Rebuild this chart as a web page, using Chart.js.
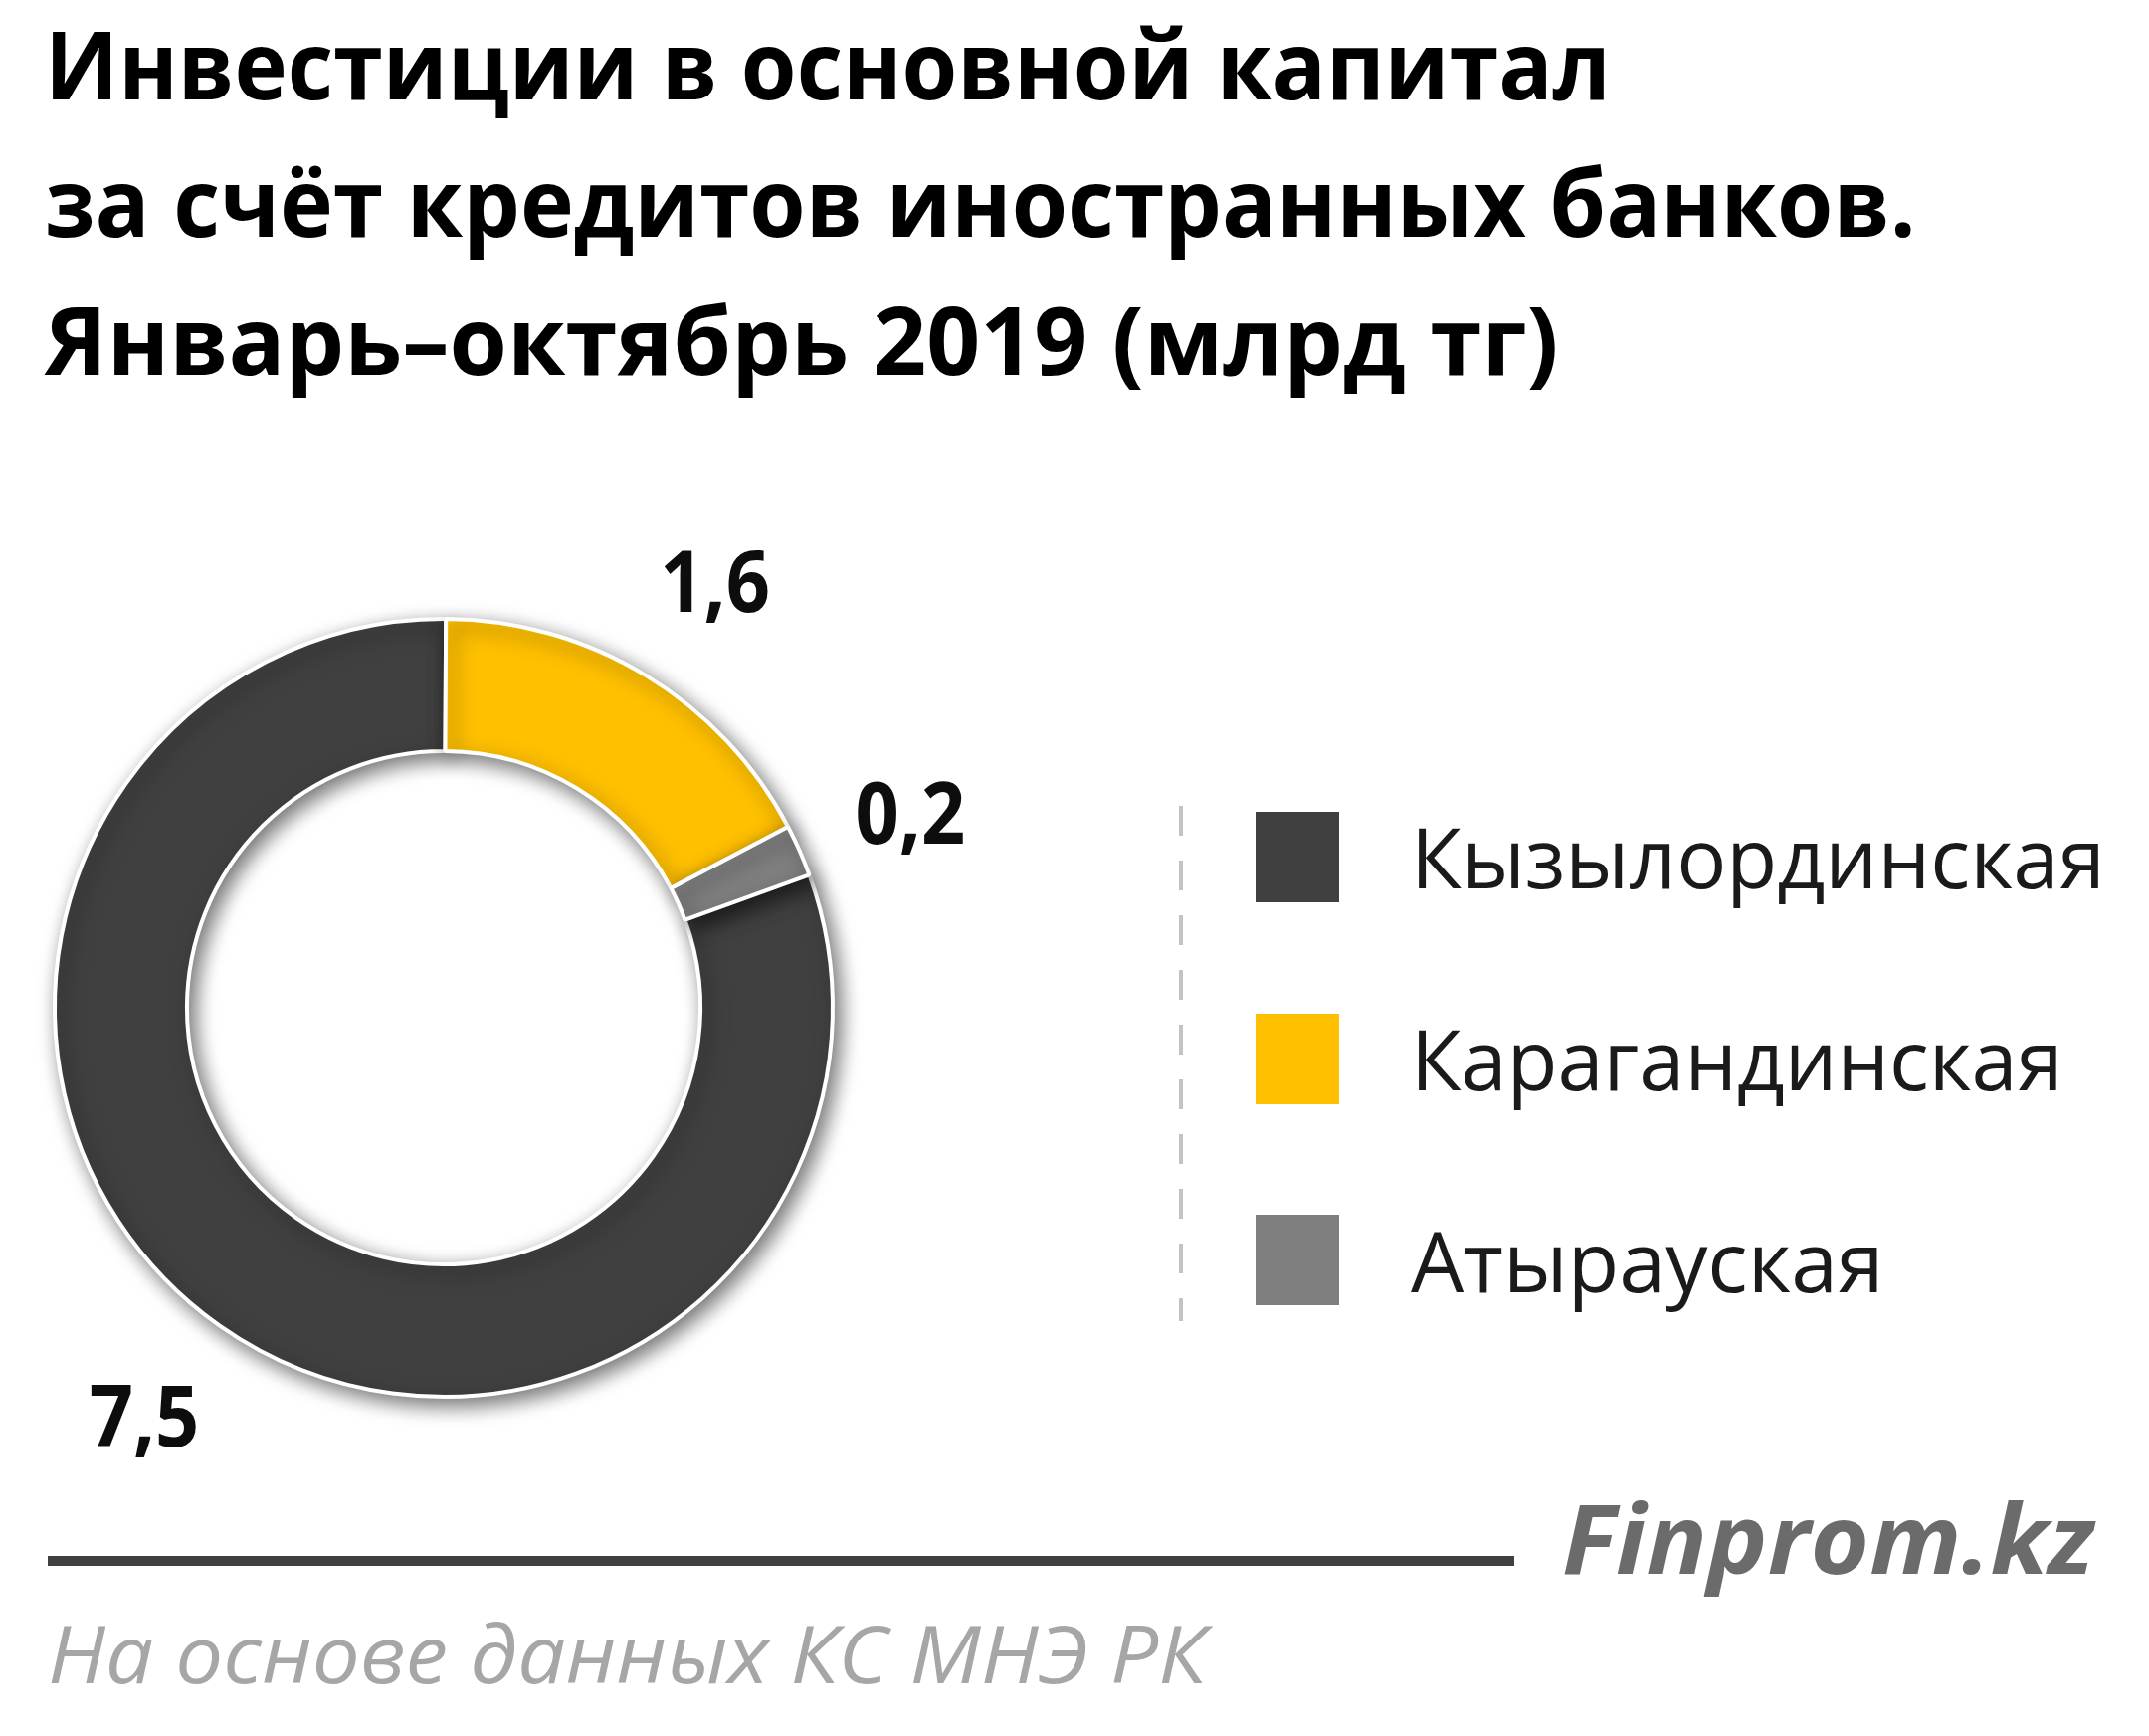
<!DOCTYPE html>
<html lang="ru">
<head>
<meta charset="utf-8">
<title>Инвестиции в основной капитал за счёт кредитов иностранных банков</title>
<script src="https://cdn.jsdelivr.net/npm/chart.js@4.4.1/dist/chart.umd.min.js"></script>
<style>
  html, body { margin: 0; padding: 0; background: #fff; }
  body { position: relative; width: 2160px; height: 1745px; overflow: hidden; font-family: "Open Sans", "Noto Sans", sans-serif; }
  .txt { position: absolute; white-space: nowrap; line-height: 1; transform-origin: 0 0; }
  .title { font-weight: 700; font-size: 95px; color: #000; }
  .leg-text { font-size: 85px; color: #1a1a1a; }
  .leg-box { position: absolute; left: 1262px; width: 84px; height: 91px; }
  #divider { position: absolute; left: 1185px; top: 810px; width: 4px; height: 518px;
    background: repeating-linear-gradient(to bottom, #c3c3c3 0 30px, transparent 30px 55px); }
  #rule { position: absolute; left: 48px; top: 1564px; width: 1474px; height: 10px; background: #404040; }
  #brand { font-weight: 700; font-style: italic; font-size: 97px; color: #6b6b6b; }
  #source { font-style: italic; font-size: 81px; color: #a6a6a6; }
  #chartBox { position: absolute; left: 0; top: 500px; width: 1000px; height: 1000px; }
</style>
</head>
<body>
<div id="chartBox"><canvas id="donut"></canvas></div>
<div id="divider"></div>
<div id="rule"></div>

<script>
// данные
const regions = ['Кызылординская', 'Карагандинская', 'Атырауская'];
const investments = [7.5, 1.6, 0.2];   // млрд тг
const sliceColors = ['#404040', '#FFC000', '#7F7F7F'];

const titleLines = [
    'Инвестиции в основной капитал',
    'за  счёт кредитов иностранных банков.',
    'Январь–октябрь 2019  (млрд тг)'
];
const brandText = 'Finprom.kz';
const sourceText = 'На основе данных  КС МНЭ РК';

function formatValue(v) {
    return v.toFixed(1).replace('.', ',');
}

// ставит текст по базовой линии и подгоняет ширину
function place(el, left, baseline, width) {
    document.body.appendChild(el);
    let mark = document.createElement('span');
    mark.style.cssText = 'display:inline-block;width:0;height:0;vertical-align:baseline';
    el.appendChild(mark);
    let base = mark.offsetTop;
    el.style.left = left + 'px';
    el.style.top = (baseline - base) + 'px';
    if (width) {
        el.style.transform = 'scaleX(' + (width / el.offsetWidth) + ')';
    }
}

function makeText(cls, text, id) {
    let el = document.createElement('div');
    el.className = 'txt ' + cls;
    if (id) el.id = id;
    el.textContent = text;
    return el;
}

function buildPage() {
    let titleBase = [100, 238, 377];
    let titleWidth = [1574, 1881, 1522];
    titleLines.forEach((line, i) => {
        place(makeText('title', line), 45, titleBase[i], titleWidth[i]);
    });

    let legendWidth = [698, 656, 476];
    regions.forEach((name, i) => {
        let box = document.createElement('div');
        box.className = 'leg-box';
        box.style.top = (816 + i * 202.5) + 'px';
        box.style.background = sliceColors[i];
        document.body.appendChild(box);
        place(makeText('leg-text', name), 1418, 893 + i * 203, legendWidth[i]);
    });

    place(makeText('', brandText, 'brand'), 1570, 1582, 535);
    place(makeText('', sourceText, 'source'), 48, 1692, 1164);
}

// тень кольца
const ringShadow = {
    id: 'ringShadow',
    beforeDatasetsDraw(chart) {
        let ctx = chart.ctx;
        ctx.save();
        ctx.shadowColor = 'rgba(0, 0, 0, 0.55)';
        ctx.shadowBlur = 20;
        ctx.shadowOffsetX = 6;
        ctx.shadowOffsetY = 7;
    },
    afterDatasetsDraw(chart) {
        chart.ctx.restore();
    }
};

// подписи значений снаружи кольца
const sliceLabels = {
    id: 'sliceLabels',
    afterDatasetsDraw(chart) {
        let ctx = chart.ctx;
        let arcs = chart.getDatasetMeta(0).data;
        ctx.save();
        ctx.font = 'bold 86px "Open Sans"';
        ctx.fillStyle = '#0d0d0d';
        ctx.textAlign = 'center';
        ctx.textBaseline = 'alphabetic';
        arcs.forEach((arc, i) => {
            let p = arc.getProps(['x', 'y', 'startAngle', 'endAngle', 'outerRadius'], true);
            let mid = (p.startAngle + p.endAngle) / 2 + 0.02;
            let r = p.outerRadius * 1.3;
            let cx = p.x + Math.cos(mid) * r;
            let cy = p.y + Math.sin(mid) * r;
            ctx.save();
            ctx.translate(cx, cy + 31);
            ctx.scale(0.9, 1);
            ctx.fillText(formatValue(investments[i]), 0, 0);
            ctx.restore();
        });
        ctx.restore();
    }
};

new Chart(document.getElementById('donut'), {
    type: 'doughnut',
    data: {
        labels: regions,
        datasets: [
            {
                data: investments,
                backgroundColor: sliceColors,
                borderColor: '#ffffff',
                borderWidth: 4
            }
        ]
    },
    options: {
        responsive: true,
        maintainAspectRatio: false,
        animation: false,
        events: [],
        rotation: 70,
        cutout: '66%',
        layout: {
            padding: { left: 53, top: 120, right: 161, bottom: 94 }
        },
        plugins: {
            legend: { display: false },
            tooltip: { enabled: false }
        }
    },
    plugins: [ringShadow, sliceLabels]
});

document.fonts.ready.then(buildPage);
</script>
</body>
</html>
